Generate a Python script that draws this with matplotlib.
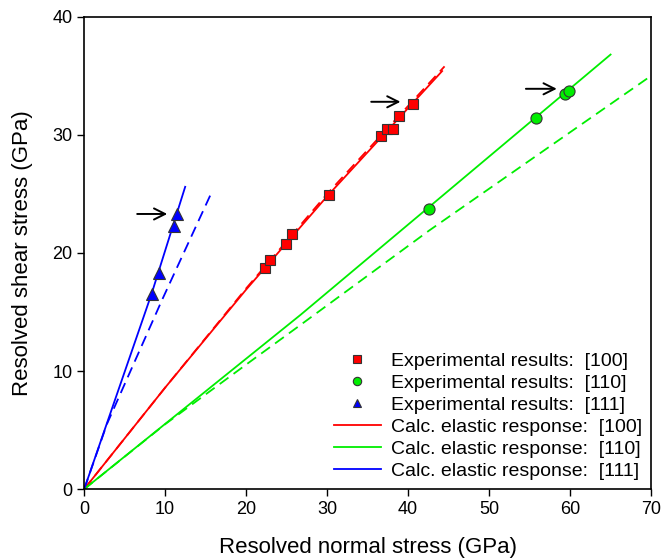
import matplotlib
matplotlib.use("Agg")
import matplotlib.pyplot as plt

plt.rcParams["font.family"] = ["Liberation Sans", "DejaVu Sans"]

# experimental points (GPa)
sq_x = [22.3, 22.9, 24.9, 25.6, 30.2, 36.6, 37.4, 38.1, 38.9, 40.6]
sq_y = [18.7, 19.4, 20.8, 21.6, 24.9, 29.9, 30.5, 30.5, 31.6, 32.6]
ci_x = [42.6, 55.8, 59.4, 59.9]
ci_y = [23.7, 31.4, 33.5, 33.75]
tr_x = [8.35, 9.2, 11.07, 11.4]
tr_y = [16.5, 18.3, 22.3, 23.3]

# calculated responses
red_x = [0, 10, 20, 30, 44.2]
red_y = [0, 8.6, 16.9, 24.8, 35.4]
red_dash_x = [0, 10, 20, 30, 44.5]
red_dash_y = [0, 8.6, 17.0, 25.0, 35.8]
green_x = [0, 26.7, 42.6, 55.8, 65.0]
green_y = [0, 14.75, 23.9, 31.5, 36.8]
green_dash_x = [0, 10, 20.5, 26.7, 42.6, 70]
green_dash_y = [0, 5.5, 10.8, 13.9, 21.9, 35.0]
blue_x = [0, 8.35, 12.47]
blue_y = [0, 16.6, 25.6]
blue_dash_x = [0, 2.8, 9.6, 15.85]
blue_dash_y = [0, 5.5, 16.0, 25.3]

# arrows: (x_start, x_end, y)
arrows = [(6.2, 10.6, 23.3), (35.1, 39.4, 32.8), (54.2, 58.7, 33.9)]

fig = plt.figure(figsize=(6.63, 5.59), dpi=100)
ax = fig.add_axes([0.127, 0.125, 0.855, 0.845])

red = "#ff0000"
green = "#00ee00"
blue = "#0000ff"

ax.plot(red_dash_x, red_dash_y, color=red, lw=1.3, ls=(0, (6, 3.5)))
ax.plot(green_dash_x, green_dash_y, color=green, lw=1.3, ls=(0, (6, 3.5)))
ax.plot(blue_dash_x, blue_dash_y, color=blue, lw=1.3, ls=(0, (6, 3.5)))

ax.plot(sq_x, sq_y, "s", color=red, ms=7, mec="#333333", mew=0.8, ls="none",
        label="Experimental results:  [100]", zorder=4)
ax.plot(ci_x, ci_y, "o", color=green, ms=8, mec="#333333", mew=0.8, ls="none",
        label="Experimental results:  [110]", zorder=4)
ax.plot(tr_x, tr_y, "^", color=blue, ms=8, mec="#333333", mew=0.8, ls="none",
        label="Experimental results:  [111]", zorder=4)
ax.plot(red_x, red_y, color=red, lw=1.3, label="Calc. elastic response:  [100]")
ax.plot(green_x, green_y, color=green, lw=1.3, label="Calc. elastic response:  [110]")
ax.plot(blue_x, blue_y, color=blue, lw=1.3, label="Calc. elastic response:  [111]")

for x0, x1, y in arrows:
    ax.annotate("", xy=(x1, y), xytext=(x0, y),
                arrowprops=dict(arrowstyle="->", color="black", lw=1.4,
                                mutation_scale=20))

ax.set_xlim(0, 70)
ax.set_ylim(0, 40)
ax.set_xticks(range(0, 71, 10))
ax.set_yticks(range(0, 41, 10))
ax.tick_params(direction="out", length=5, width=1, labelsize=13)
for s in ax.spines.values():
    s.set_linewidth(1.2)
ax.set_xlabel("Resolved normal stress (GPa)", fontsize=16, labelpad=14)
ax.set_ylabel("Resolved shear stress (GPa)", fontsize=16, labelpad=14)

leg = ax.legend(loc="lower right", bbox_to_anchor=(0.985, 0.019), frameon=False,
                fontsize=14, handlelength=2.4, handletextpad=0.55,
                labelspacing=0.23, borderaxespad=0, borderpad=0,
                markerscale=0.75)

fig.savefig("out.png", dpi=100)
